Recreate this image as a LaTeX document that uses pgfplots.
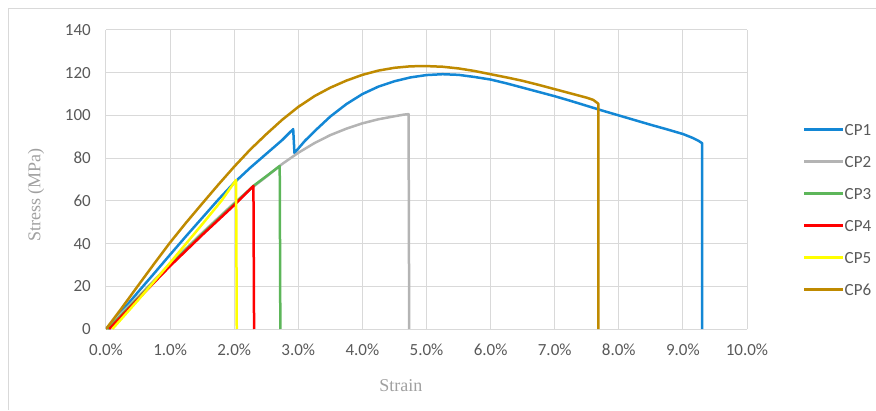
\documentclass[border=0pt]{standalone}
\usepackage{pgfplots}
\pgfplotsset{compat=1.18}
\usepackage{fontspec}
\setmainfont{Liberation Serif}
\newfontfamily\calibri{Carlito}
\definecolor{gridc}{HTML}{D9D9D9}
\definecolor{tickc}{HTML}{595959}
\definecolor{titlec}{HTML}{A0A0A0}
\definecolor{cpone}{HTML}{1387D5}
\definecolor{cptwo}{HTML}{B4B4B4}
\definecolor{cpthree}{HTML}{5DB65A}
\definecolor{cpfour}{HTML}{FF0000}
\definecolor{cpfive}{HTML}{FFFF00}
\definecolor{cpsix}{HTML}{BF8A00}
\begin{document}
\begin{tikzpicture}
\useasboundingbox (0pt,0pt) rectangle (876pt,410pt);
\draw[gridc, line width=1pt] (8pt,0pt) -- (8pt,401pt) -- (876pt,401pt);
\begin{axis}[
  at={(106pt,81pt)}, anchor=south west,
  scale only axis, width=641pt, height=299pt,
  xmin=0, xmax=10, ymin=0, ymax=140,
  xtick={0,1,...,10}, ytick={0,20,...,140},
  xticklabels={0.0\%,1.0\%,2.0\%,3.0\%,4.0\%,5.0\%,6.0\%,7.0\%,8.0\%,9.0\%,10.0\%},
  yticklabels={0,20,40,60,80,100,120,140},
  xticklabel style={font=\calibri\fontsize{17}{17}\selectfont, text=tickc, inner sep=0pt, yshift=-15pt},
  yticklabel style={font=\calibri\fontsize{17}{17}\selectfont, text=tickc, inner sep=0pt, xshift=-15pt},
  grid=major, major grid style={draw=gridc, line width=1pt},
  axis line style={draw=none}, major tick length=0pt,
  xlabel={Strain}, ylabel={Stress (MPa)},
  xlabel style={font=\fontsize{18}{18}\selectfont, text=titlec, at={(axis description cs:0.46,0)}, anchor=center, yshift=-57pt},
  ylabel style={font=\fontsize{18}{18}\selectfont, text=titlec, at={(axis description cs:-0.109,0.448)}, anchor=center},
  legend style={draw=none, fill=none, at={(axis description cs:1.0827,0.692)}, anchor=north west,
    nodes={inner sep=0pt, text height=11pt, text depth=0pt, font=\calibri\fontsize{17}{17}\selectfont, text=tickc},
    row sep=21pt, /tikz/every even column/.append style={column sep=4pt}},
  legend cell align=left,
  legend image code/.code={\draw[#1] (0pt,0.5pt) -- (39pt,0.5pt);},
  every axis plot/.append style={line width=2.5pt, line join=round},
]
\addplot[cpone] coordinates {(0,0) (0.25,8.5) (0.5,17.3) (0.75,26) (1.0,34.8) (1.25,43.5) (1.5,52) (1.75,60.5) (2.0,68.5) (2.25,75.5) (2.5,82) (2.75,88.5) (2.92,93.6) (2.94,82.4) (3.0,84.5) (3.1,88) (3.25,92.5) (3.5,99.5) (3.75,105.3) (4.0,110) (4.25,113.5) (4.5,116) (4.75,117.8) (5.0,118.9) (5.25,119.3) (5.5,119) (5.75,118) (6.0,116.8) (6.25,115) (6.5,113) (6.75,111) (7.0,109) (7.25,106.8) (7.5,104.5) (7.75,102.2) (8.0,100) (8.25,97.8) (8.5,95.6) (8.75,93.5) (9.0,91.3) (9.15,89.5) (9.25,88) (9.3,87) (9.3,0)};
\addlegendentry{CP1}
\addplot[cptwo] coordinates {(0,0) (0.5,15) (1.0,30.5) (1.5,45) (2.0,59) (2.25,65.5) (2.5,71.3) (2.75,77.3) (3.0,82.5) (3.25,87) (3.5,90.8) (3.75,93.8) (4.0,96.3) (4.25,98.2) (4.5,99.6) (4.65,100.4) (4.72,100.6) (4.73,0)};
\addlegendentry{CP2}
\addplot[cpthree] coordinates {(0.03,0) (0.5,14.5) (1.0,30) (1.5,44.5) (2.0,58.5) (2.3,67) (2.5,71.5) (2.71,76.3) (2.72,0)};
\addlegendentry{CP3}
\addplot[cpfour] coordinates {(0.05,0) (0.5,14) (1.0,29.5) (1.5,44) (2.0,58) (2.3,67) (2.31,0)};
\addlegendentry{CP4}
\addplot[cpfive] coordinates {(0.1,0) (0.5,13.5) (1.0,31) (1.5,49) (1.8,60) (2.03,69.8) (2.04,0)};
\addlegendentry{CP5}
\addplot[cpsix] coordinates {(0,0) (0.25,10) (0.5,20.3) (0.75,30.5) (1.0,40.5) (1.25,49.8) (1.5,58.7) (1.75,67.5) (2.0,76) (2.25,84) (2.5,91.2) (2.75,98) (3.0,104) (3.25,109) (3.5,113) (3.75,116.3) (4.0,119) (4.25,121) (4.5,122.3) (4.75,123) (5.0,123.1) (5.25,122.8) (5.5,122) (5.75,120.8) (6.0,119.3) (6.25,117.8) (6.5,116.2) (6.75,114.3) (7.0,112.3) (7.25,110.3) (7.5,108.3) (7.6,107.3) (7.68,105.5) (7.68,0)};
\addlegendentry{CP6}
\end{axis}
\end{tikzpicture}
\end{document}
